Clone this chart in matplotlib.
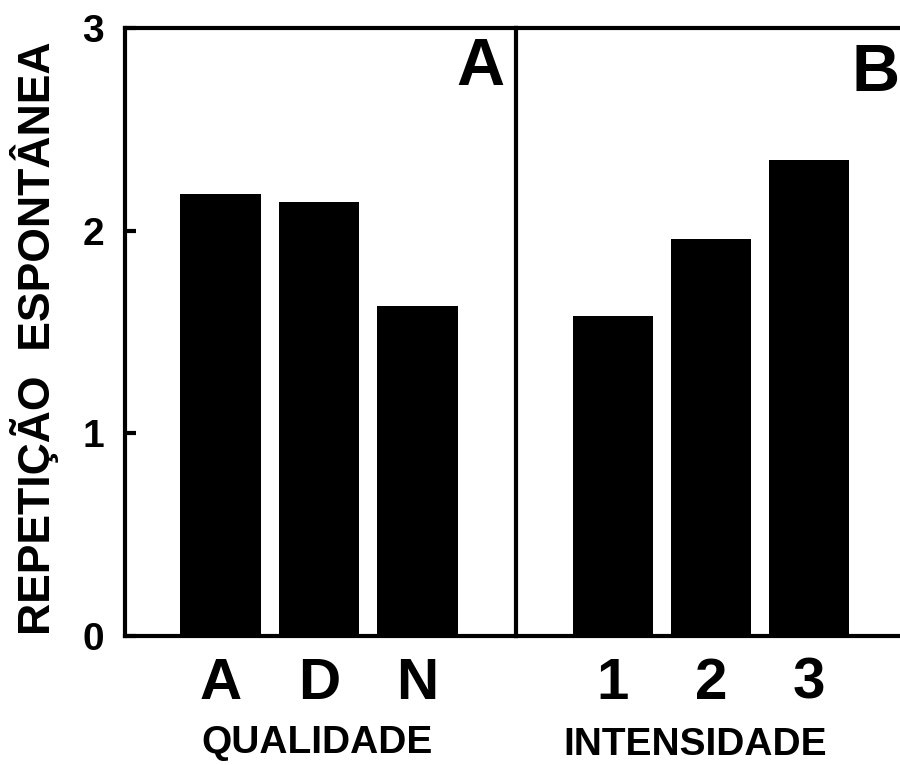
import matplotlib
matplotlib.use("Agg")
import matplotlib.pyplot as plt

# values
qualidade = ["A", "D", "N"]
rep_qualidade = [2.18, 2.14, 1.63]
intensidade = ["1", "2", "3"]
rep_intensidade = [1.58, 1.96, 2.35]

plt.rcParams['font.family'] = ['Liberation Sans', 'DejaVu Sans']
plt.rcParams['font.weight'] = 'bold'

W, H = 900, 765
fig = plt.figure(figsize=(W/100, H/100), dpi=100)

y0, y3 = 636, 28
ax_a = fig.add_axes([125/W, (H-y0)/H, 391/W, (y0-y3)/H])
ax_b = fig.add_axes([516/W, (H-y0)/H, (W-516)/W, (y0-y3)/H])

lw = 3.0
for ax, cats, vals in [(ax_a, qualidade, rep_qualidade),
                       (ax_b, intensidade, rep_intensidade)]:
    pos = [1, 2, 3]
    ax.bar(pos, vals, width=0.82, color='black')
    ax.set_ylim(0, 3)
    ax.set_xticks(pos)
    ax.set_xticklabels(cats, fontsize=42, fontweight='bold')
    ax.tick_params(axis='x', length=0, pad=15)
    for s in ax.spines.values():
        s.set_linewidth(lw)

ax_a.set_xlim(0.03, 4.0)
ax_b.set_xlim(0.01, 3.93)
ax_a.spines['right'].set_visible(False)
ax_b.spines['right'].set_visible(False)

ax_a.set_yticks([0, 1, 2, 3])
ax_a.set_yticklabels(["0", "1", "2", "3"], fontsize=28, fontweight='bold')
ax_a.tick_params(axis='y', direction='in', length=8, width=lw, pad=15)
ax_b.set_yticks([])

ax_a.set_ylabel("REPETIÇÃO  ESPONTÂNEA", fontsize=32, fontweight='bold')
ax_a.yaxis.set_label_coords(-0.17, 0.49)

ax_a.set_xlabel("QUALIDADE", fontsize=28, fontweight='bold')
ax_b.set_xlabel("INTENSIDADE", fontsize=28, fontweight='bold')
ax_a.xaxis.set_label_coords(0.49, -0.146)
ax_b.xaxis.set_label_coords(0.466, -0.150)

ax_a.text(0.97, 0.985, "A", transform=ax_a.transAxes, fontsize=48,
          fontweight='bold', ha='right', va='top')
ax_b.text(1.0, 0.975, "B", transform=ax_b.transAxes, fontsize=48,
          fontweight='bold', ha='right', va='top')

fig.savefig("out.png", dpi=100)
